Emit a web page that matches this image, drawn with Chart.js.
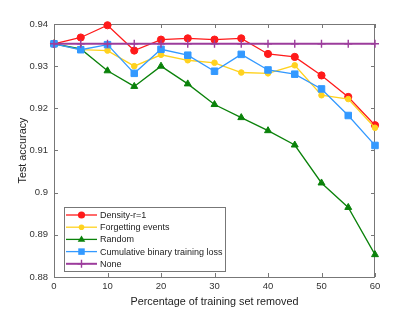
<!DOCTYPE html>
<html>
<head>
<meta charset="utf-8">
<script src="https://cdn.jsdelivr.net/npm/chart.js@4"></script>
<style>
  html, body { margin: 0; padding: 0; background: #fff; }
  #wrap { width: 415px; height: 312px; }
</style>
</head>
<body>
<div id="wrap"><canvas id="chart" width="415" height="312"></canvas></div>
<script>
// percentage of training set removed
const removed = [0, 5, 10, 15, 20, 25, 30, 35, 40, 45, 50, 55, 60];

// test accuracy per method
const density    = [0.9353, 0.9368, 0.9397, 0.9337, 0.9363, 0.9366, 0.9363, 0.9366, 0.9329, 0.9322, 0.9278, 0.9227, 0.9160];
const forgetting = [0.9353, 0.9339, 0.9337, 0.9300, 0.9327, 0.9314, 0.9308, 0.9285, 0.9283, 0.9302, 0.9231, 0.9222, 0.9154];
const random     = [0.9353, 0.9341, 0.9289, 0.9252, 0.9300, 0.9258, 0.9209, 0.9178, 0.9147, 0.9113, 0.9023, 0.8965, 0.8853];
const cumulative = [0.9353, 0.9339, 0.9351, 0.9283, 0.9340, 0.9326, 0.9288, 0.9328, 0.9291, 0.9281, 0.9246, 0.9183, 0.9112];
const none       = [0.9353, 0.9353, 0.9353, 0.9353, 0.9353, 0.9353, 0.9353, 0.9353, 0.9353, 0.9353, 0.9353, 0.9353, 0.9353];

const xTicks = [0, 10, 20, 30, 40, 50, 60];
const yTicks = [0.88, 0.89, 0.9, 0.91, 0.92, 0.93, 0.94];

const FONT = '"Liberation Sans", Arial, Helvetica, sans-serif';
const AXIS = '#777';

function pts(ys) {
  return ys.map((y, i) => ({ x: removed[i], y: y }));
}

function series(label, ys, color, style, radius, width, order) {
  return {
    label: label,
    data: pts(ys),
    borderColor: color,
    backgroundColor: color,
    pointBackgroundColor: color,
    pointBorderColor: color,
    pointStyle: style,
    pointRadius: radius,
    pointHoverRadius: radius,
    pointBorderWidth: style === 'cross' ? 1.4 : 1,
    borderWidth: width,
    tension: 0,
    fill: false,
    clip: false,
    order: order
  };
}

// small marker painter for the legend samples
function marker(ctx, style, x, y, r, color) {
  ctx.save();
  ctx.fillStyle = color;
  ctx.strokeStyle = color;
  ctx.lineWidth = 1.4;
  ctx.beginPath();
  if (style === 'circle') {
    ctx.arc(x, y, r, 0, Math.PI * 2);
    ctx.fill();
  } else if (style === 'rect') {
    const s = r * Math.SQRT1_2;
    ctx.rect(x - s, y - s, 2 * s, 2 * s);
    ctx.fill();
  } else if (style === 'triangle') {
    ctx.moveTo(x, y - r);
    ctx.lineTo(x + r * 0.95, y + r * 0.6);
    ctx.lineTo(x - r * 0.95, y + r * 0.6);
    ctx.closePath();
    ctx.fill();
  } else if (style === 'cross') {
    ctx.moveTo(x, y - r);
    ctx.lineTo(x, y + r);
    ctx.moveTo(x - r, y);
    ctx.lineTo(x + r, y);
    ctx.stroke();
  }
  ctx.restore();
}

const boxPlugin = {
  id: 'matlabBox',
  beforeDatasetsDraw(chart) {
    const { ctx, chartArea: a, scales } = chart;
    ctx.save();
    ctx.strokeStyle = AXIS;
    ctx.lineWidth = 1;
    ctx.strokeRect(a.left + 0.5, a.top + 0.5, a.right - a.left - 1, a.bottom - a.top);
    const len = 4;
    ctx.beginPath();
    scales.x.ticks.forEach(t => {
      const px = Math.round(scales.x.getPixelForValue(t.value)) + 0.5;
      ctx.moveTo(px, a.bottom); ctx.lineTo(px, a.bottom - len);
      ctx.moveTo(px, a.top); ctx.lineTo(px, a.top + len);
    });
    scales.y.ticks.forEach(t => {
      const py = Math.round(scales.y.getPixelForValue(t.value)) + 0.5;
      ctx.moveTo(a.left, py); ctx.lineTo(a.left + len, py);
      ctx.moveTo(a.right, py); ctx.lineTo(a.right - len, py);
    });
    ctx.stroke();
    ctx.restore();
  },
  afterDraw(chart) {
    const { ctx, chartArea: a } = chart;
    const sets = chart.data.datasets;
    const left = a.left + 10, w = 161, rowH = 12.2, h = 64;
    const top = a.bottom - 6 - h;
    ctx.save();
    ctx.fillStyle = '#fff';
    ctx.fillRect(left, top, w, h);
    ctx.strokeStyle = AXIS;
    ctx.lineWidth = 1;
    ctx.strokeRect(left + 0.5, top + 0.5, w, h);
    ctx.font = '9px ' + FONT;
    ctx.textBaseline = 'middle';
    ctx.textAlign = 'left';
    sets.forEach((ds, i) => {
      const y = top + 8 + i * rowH;
      ctx.strokeStyle = ds.borderColor;
      ctx.lineWidth = ds.borderWidth;
      ctx.beginPath();
      ctx.moveTo(left + 2, y);
      ctx.lineTo(left + 33, y);
      ctx.stroke();
      marker(ctx, ds.pointStyle, left + 17.5, y, ds.pointRadius, ds.borderColor);
      ctx.fillStyle = '#222';
      ctx.fillText(ds.label, left + 36, y + 0.5);
    });
    ctx.restore();
  }
};

new Chart(document.getElementById('chart'), {
  type: 'line',
  data: {
    datasets: [
      series('Density-r=1', density, '#ff1a1a', 'circle', 3.6, 1.3, 5),
      series('Forgetting events', forgetting, '#ffd21f', 'circle', 2.8, 1.3, 4),
      series('Random', random, '#0a820a', 'triangle', 4, 1.3, 3),
      series('Cumulative binary training loss', cumulative, '#3399ff', 'rect', 4.6, 1.3, 2),
      series('None', none, '#9c3c9c', 'cross', 4, 2, 1)
    ]
  },
  options: {
    responsive: false,
    animation: false,
    devicePixelRatio: 1,
    layout: { padding: { top: 24, right: 40, left: 0, bottom: 0 } },
    plugins: {
      legend: { display: false },
      tooltip: { enabled: false }
    },
    scales: {
      x: {
        type: 'linear',
        min: 0,
        max: 60,
        afterBuildTicks: s => { s.ticks = xTicks.map(v => ({ value: v })); },
        afterFit: s => { s.height = 35; },
        grid: { display: false, drawTicks: false },
        border: { display: false },
        ticks: { padding: 4, color: '#333', font: { family: FONT, size: 9.5 } },
        title: {
          display: true,
          text: 'Percentage of training set removed',
          color: '#222',
          font: { family: FONT, size: 10.8 },
          padding: { top: 0, bottom: 3 }
        }
      },
      y: {
        type: 'linear',
        min: 0.88,
        max: 0.94,
        afterBuildTicks: s => { s.ticks = yTicks.map(v => ({ value: v })); },
        afterFit: s => { s.width = 54; },
        grid: { display: false, drawTicks: false },
        border: { display: false },
        ticks: {
          padding: 6,
          color: '#333',
          font: { family: FONT, size: 9.5 },
          callback: v => String(Number(v.toFixed(2)))
        },
        title: {
          display: true,
          text: 'Test accuracy',
          color: '#222',
          font: { family: FONT, size: 10.8 },
          padding: { top: 16.5, bottom: 0 }
        }
      }
    }
  },
  plugins: [boxPlugin]
});
</script>
</body>
</html>
